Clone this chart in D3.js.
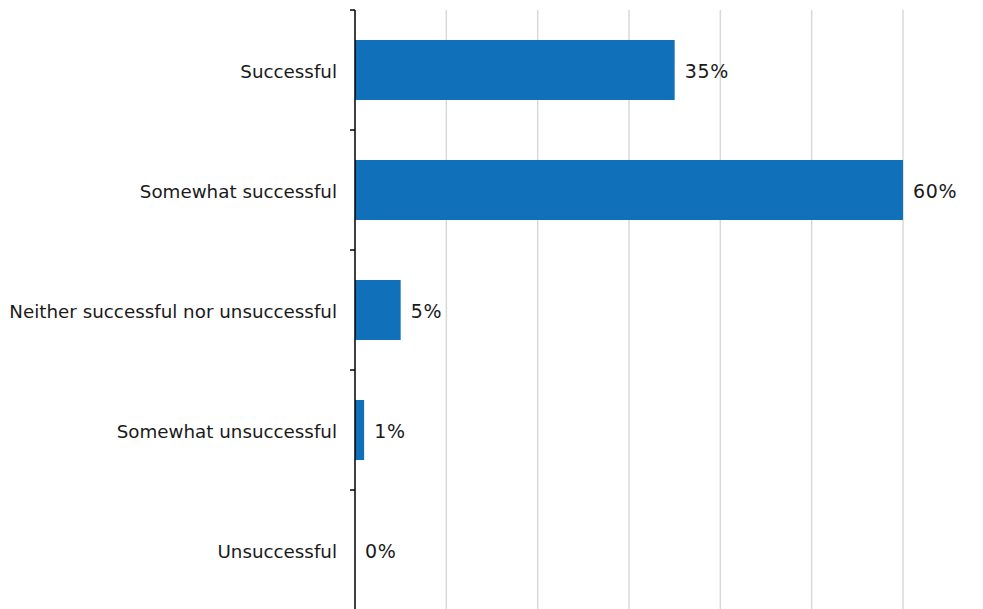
<!DOCTYPE html>
<html><head><meta charset="utf-8">
<script src="https://cdn.jsdelivr.net/npm/d3@7"></script>
<style>body{margin:0;background:#fff}svg{display:block}text{font-family:"DejaVu Sans",Verdana,sans-serif;fill:#1a1a1a}.cat{font-size:18.3px}.val{font-size:19px;letter-spacing:0.7px}</style>
</head><body>
<svg id="c" width="983" height="609"></svg>
<script>
const categories = ["Successful","Somewhat successful","Neither successful nor unsuccessful","Somewhat unsuccessful","Unsuccessful"];
const values = [35, 60, 5, 1, 0];
const labels = ["35%","60%","5%","1%","0%"];
const gridTicks = [10,20,30,40,50,60];

const svg = d3.select("#c");
const x = d3.scaleLinear().domain([0,60]).range([355,903]);
const y = d3.scaleBand().domain(categories).range([10,610]).paddingInner(0.5).paddingOuter(0.25);

svg.append("g").selectAll("line").data(gridTicks).join("line")
  .attr("x1",d=>x(d)).attr("x2",d=>x(d)).attr("y1",10).attr("y2",609)
  .attr("stroke","#d9d9d9").attr("stroke-width",1.5);

svg.append("g").selectAll("rect").data(values).join("rect")
  .attr("x",x(0)).attr("y",(d,i)=>y(categories[i]))
  .attr("width",d=>x(d)-x(0)).attr("height",y.bandwidth())
  .attr("fill","#1170ba");

svg.append("g").selectAll("text").data(values).join("text").attr("class","val")
  .attr("x",d=>x(d)+10).attr("y",(d,i)=>y(categories[i])+y.bandwidth()/2+1.5)
  .attr("dy","0.35em").text((d,i)=>labels[i]);

// category axis
const ax = svg.append("g");
ax.append("line").attr("x1",355).attr("x2",355).attr("y1",10).attr("y2",609).attr("stroke","#000").attr("stroke-width",1.5);
const edges = d3.range(categories.length+1).map(i=>10+i*y.step());
ax.selectAll("line.t").data(edges).join("line").attr("class","t")
  .attr("x1",350).attr("x2",355).attr("y1",d=>d).attr("y2",d=>d).attr("stroke","#000").attr("stroke-width",1.5);
ax.selectAll("text").data(categories).join("text").attr("class","cat")
  .attr("x",337).attr("y",d=>y(d)+y.bandwidth()/2+1.5).attr("dy","0.35em")
  .attr("text-anchor","end").text(d=>d);
</script>
</body></html>
